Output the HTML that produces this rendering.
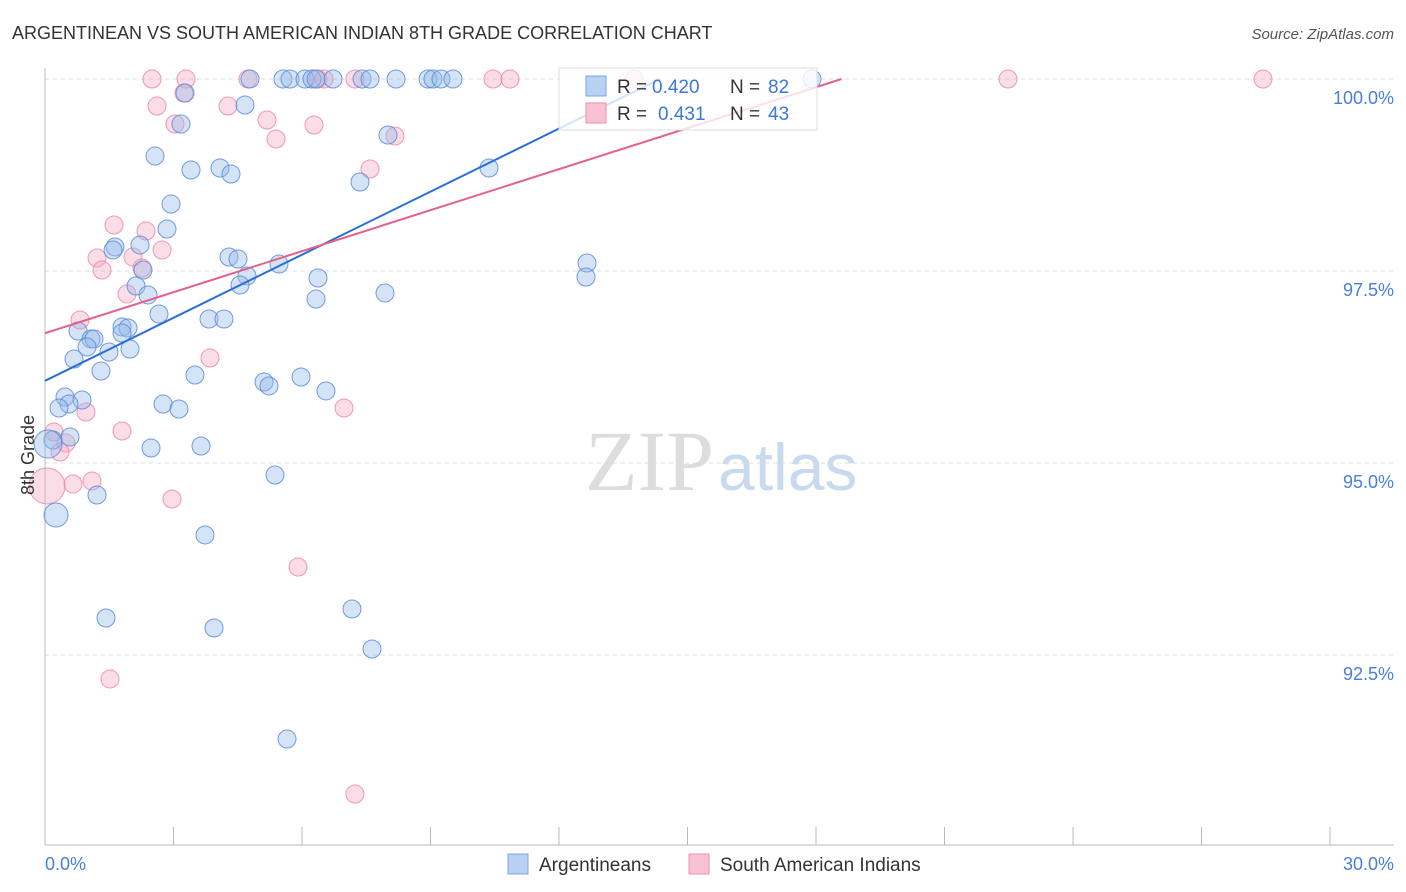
<!DOCTYPE html>
<html><head><meta charset="utf-8">
<style>
body{margin:0;background:#fff;font-family:"Liberation Sans",sans-serif;}
svg{display:block}
</style></head>
<body>
<svg id="chart" width="1406" height="892">
<text x="12" y="39" font-size="18" fill="#333">ARGENTINEAN VS SOUTH AMERICAN INDIAN 8TH GRADE CORRELATION CHART</text>
<text x="1394" y="39" font-size="15" fill="#555" font-style="italic" text-anchor="end">Source: ZipAtlas.com</text>
<text x="714" y="490" font-size="86" fill="#ddd" text-anchor="end" font-family="Liberation Serif,serif">ZIP</text>
<text x="718" y="490" font-size="66" fill="#c9d9ef">atlas</text>
<g id="grid"></g>
<g id="pts"></g>
<g id="lines"></g>
<text transform="translate(34,455) rotate(-90)" font-size="18" fill="#333" text-anchor="middle">8th Grade</text>
<text x="45" y="870" font-size="18" fill="#4a7fd4">0.0%</text>
<text x="1394" y="870" font-size="18" fill="#4a7fd4" text-anchor="end">30.0%</text>
<g>
<rect x="559" y="68" width="258" height="62" fill="rgba(255,255,255,0.8)" stroke="#ddd"/>
<rect x="586" y="76" width="20" height="20" fill="#b8d0f2" stroke="#7aa6e6"/>
<text x="617" y="93" font-size="19" fill="#333">R =</text>
<text x="652" y="93" font-size="19" fill="#3b78d8">0.420</text>
<text x="730" y="93" font-size="19" fill="#333">N =</text>
<text x="768" y="93" font-size="19" fill="#3b78d8">82</text>
<rect x="586" y="103" width="20" height="20" fill="#f7c3d3" stroke="#eb8fae"/>
<text x="617" y="120" font-size="19" fill="#333">R =</text>
<text x="658" y="120" font-size="19" fill="#3b78d8">0.431</text>
<text x="730" y="120" font-size="19" fill="#333">N =</text>
<text x="768" y="120" font-size="19" fill="#3b78d8">43</text>
</g>
<g><rect x="508" y="854" width="20" height="20" fill="#b8d0f2" stroke="#7aa6e6"/><text x="539" y="871" font-size="19" fill="#333">Argentineans</text></g>
<g><rect x="689" y="854" width="20" height="20" fill="#f7c3d3" stroke="#eb8fae"/><text x="720" y="871" font-size="19" fill="#333">South American Indians</text></g>
</svg>
<script>
const yTicks=[100,97.5,95,92.5];
const yTickLabels=["100.0%","97.5%","95.0%","92.5%"];
const xTicks=[0,3,6,9,12,15,18,21,24,27,30];
const bluePx=[[250,79],[283,79],[290,79],[305,79],[312,79],[316,79],[333,79],[362,79],[370,79],[396,79],[428,79],[433,79],[441,79],[453,79],[812,79],[185,93],[245,105],[181,124],[388,135],[155,156],[191,170],[220,168],[231,174],[360,182],[489,168],[171,204],[167,229],[140,245],[115,247],[113,250],[229,257],[238,259],[279,264],[143,270],[318,278],[587,263],[586,277],[247,276],[240,285],[136,286],[148,295],[385,293],[316,299],[159,314],[209,319],[224,319],[122,327],[128,328],[122,333],[78,331],[91,339],[94,339],[87,347],[130,349],[109,352],[74,359],[101,371],[195,375],[264,382],[269,386],[301,377],[326,391],[65,397],[82,400],[69,404],[59,408],[163,404],[179,409],[70,437],[53,440],[48,444,14],[151,448],[201,446],[275,475],[97,495],[56,515,12],[205,535],[352,609],[106,618],[214,628],[372,649],[287,739]];
const pinkPx=[[152,79],[186,79],[248,79],[318,79],[324,79],[355,79],[493,79],[510,79],[1008,79],[1263,79],[634,79],[184,93],[157,106],[228,106],[175,124],[267,120],[314,125],[276,139],[395,136],[370,169],[114,225],[146,231],[162,250],[97,258],[133,257],[142,268],[102,270],[127,294],[80,320],[210,358],[86,412],[344,408],[122,431],[54,432],[66,443],[60,452],[92,481],[73,484],[172,499],[298,567],[110,679],[355,794],[47,486,18]];
const blueX=bluePx.map(p=>+((p[0]-45)/42.833).toFixed(3));
const blueY=bluePx.map(p=>+(100-(p[1]-79)/76.8).toFixed(3));
const blueR=bluePx.map(p=>p[2]||9);
const pinkX=pinkPx.map(p=>+((p[0]-45)/42.833).toFixed(3));
const pinkY=pinkPx.map(p=>+(100-(p[1]-79)/76.8).toFixed(3));
const pinkR=pinkPx.map(p=>p[2]||9);
const blueTrend=[96.07,0.2737];
const pinkTrend=[96.69,0.178];

const X=v=>45+v*42.833, Y=v=>79+(100-v)*76.8;
const NS="http://www.w3.org/2000/svg";
function mk(t,a,p){const e=document.createElementNS(NS,t);for(const k in a)e.setAttribute(k,a[k]);p.appendChild(e);return e;}
const grid=document.getElementById('grid');
yTicks.forEach((t,i)=>{
 const l=mk('line',{x1:45,x2:1394,y1:Y(t),y2:Y(t),stroke:'#ddd','stroke-dasharray':'4,4'},grid);
 
 
 const tx=mk('text',{x:1394,y:Y(t)+25,'font-size':18,fill:'#4a7fd4','text-anchor':'end'},grid);
 tx.textContent=yTickLabels[i];
 
 
});
const ax=mk('line',{x1:45,x2:45,y1:68,y2:845,stroke:'#bbb'},grid);


const bx=mk('line',{x1:45,x2:1394,y1:845,y2:845,stroke:'#bbb'},grid);


xTicks.forEach(t=>{
 const l=mk('line',{x1:X(t),x2:X(t),y1:827,y2:845,stroke:'#bbb'},grid);
 
 
});
const pts=document.getElementById('pts');
function series(xs,ys,rs,fill,stroke,name){
 xs.forEach((x,i)=>{
  const c=mk('circle',{cx:X(x),cy:Y(ys[i]),r:rs[i],fill:fill,stroke:stroke,'stroke-width':1},pts);
  
  
 });
}
series(pinkX,pinkY,pinkR,'rgba(244,170,195,0.4)','rgba(234,130,165,0.8)','pink-point');
series(blueX,blueY,blueR,'rgba(150,185,235,0.4)','rgba(90,140,215,0.85)','blue-point');
const lines=document.getElementById('lines');
function trend(tr,col,name){
 const xEnd=(100-tr[0])/tr[1];
 const l=mk('line',{x1:X(0),y1:Y(tr[0]),x2:X(xEnd),y2:Y(100),stroke:col,'stroke-width':2},lines);
 
 
}
trend(blueTrend,'#2a6fd6','blue-trend-line');
trend(pinkTrend,'#e4608c','pink-trend-line');
</script>
</body></html>
